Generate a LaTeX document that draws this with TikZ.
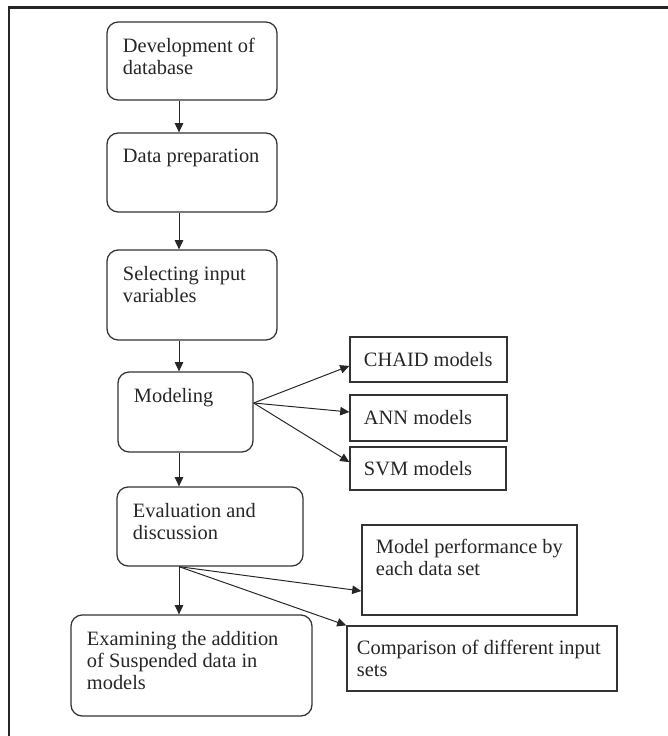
\documentclass[tikz,border=0pt]{standalone}
\usepackage{fontspec}
\setmainfont{Liberation Serif}
\usetikzlibrary{positioning, arrows.meta, calc}

\begin{document}
\begin{tikzpicture}[
    x=0.025cm, y=-0.025cm,
    txt/.style={font=\fontsize{14.5}{15.6}\selectfont, text=black!85},
    stepbox/.style 2 args={draw=black!80, line width=0.9pt, rounded corners=8pt, txt,
                  inner xsep=0.4cm, inner ysep=0.4cm,
                  execute at begin node={\begin{minipage}[c][#2][t]{#1}\raggedright},
                  execute at end node={\end{minipage}}},
    outbox/.style n args={3}{draw=black!80, line width=0.9pt, txt,
                  inner xsep=0.35cm, inner ysep=0.35cm,
                  execute at begin node={\begin{minipage}[c][#2][#3]{#1}\raggedright},
                  execute at end node={\end{minipage}}},
    arw/.style={-{Triangle[length=6.5pt, width=6pt]}, line width=0.7pt, black!85},
    frame/.style={line width=1.6pt, black!85},
]
\useasboundingbox (0, 0) rectangle (668, 736);
\draw[frame] (9, 740) -- (9, 7.5) -- (672, 7.5);

\node[stepbox={3.45cm}{1.15cm}] (dev) at (192, 61) {Development of\\database};
\node[stepbox={3.45cm}{1.175cm}] (prep) at (192, 172.5) {Data preparation};
\node[stepbox={3.45cm}{1.45cm}] (sel) at (192, 295) {Selecting input\\variables};
\node[stepbox={2.575cm}{1.2cm}] (mod) at (185.5, 412) {Modeling};
\node[stepbox={3.85cm}{1.175cm}] (eval) at (210, 526.5) {Evaluation and\\discussion};
\node[stepbox={5.225cm}{1.725cm}] (exam) at (191.5, 665.5)
    {Examining the addition\\of Suspended data in\\models};

% Model types
\node[outbox={3.225cm}{0.425cm}{c}] (chaid) at (428.5, 359.5) {CHAID models};
\node[outbox={3.225cm}{0.45cm}{c}] (ann) at (428.5, 418) {ANN models};
\node[outbox={3.2cm}{0.375cm}{c}] (svm) at (428, 468.5) {SVM models};

% Evaluation outputs
\node[outbox={4.675cm}{1.55cm}{t}] (perf) at (469.5, 570) {Model performance by\\each data set};
\node[outbox={6.25cm}{0.925cm}{c}, inner xsep=0.25cm] (comp) at (482, 658.5)
    {Comparison of different input\\sets};

\coordinate (spine) at (179, 0);
\coordinate (fan) at ([yshift=0.225cm]mod.east);

\draw[arw] (dev.south -| spine) -- (prep.north -| spine);
\draw[arw] (prep.south -| spine) -- (sel.north -| spine);
\draw[arw] (sel.south -| spine) -- (mod.north -| spine);
\draw[arw] (mod.south -| spine) -- (eval.north -| spine);
\draw[arw] (eval.south -| spine) -- (exam.north -| spine);

\draw[arw] (fan) -- ([yshift=-0.16cm]chaid.west);
\draw[arw] (fan) -- ([yshift=0.15cm]ann.west);
\draw[arw] (fan) -- ([yshift=0.16cm]svm.west);

\draw[arw] (eval.south -| spine) -- ([yshift=-0.525cm]perf.west);
\draw[arw] (eval.south -| spine) -- (comp.north west);
\end{tikzpicture}
\end{document}
